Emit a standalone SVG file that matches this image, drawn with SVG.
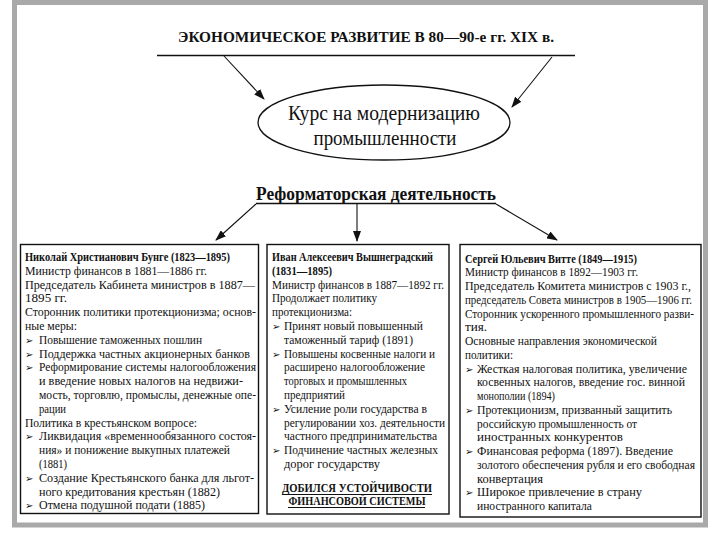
<svg xmlns="http://www.w3.org/2000/svg" width="720" height="540" viewBox="0 0 720 540">
<style>
.t{font-family:"Liberation Serif","Times New Roman","Tinos","DejaVu Serif",serif;font-size:12.5px;fill:#111}
.b{font-weight:bold}
.bu{font-family:"DejaVu Sans",sans-serif;font-size:10px;fill:#111}
.ln{stroke:#111;stroke-width:1.3;fill:none}
.box{fill:#fff;stroke:#111;stroke-width:1.4}
.ar{stroke:#111;stroke-width:1.1;fill:none;marker-end:url(#ah)}
</style>
<defs>
<marker id="ah" markerUnits="userSpaceOnUse" markerWidth="11" markerHeight="8" refX="10" refY="4" orient="auto">
<path d="M0,0 L11,4 L0,8 z" fill="#111"/>
</marker>
</defs>
<rect x="0" y="0" width="720" height="540" fill="#fff"/>
<rect x="14.5" y="2.5" width="691" height="522.5" fill="#fff" stroke="#a9a9a9" stroke-width="5"/>

<g id="title">
<text x="366" y="42" text-anchor="middle" class="t b" style="font-size:15px" textLength="376" lengthAdjust="spacingAndGlyphs">ЭКОНОМИЧЕСКОЕ РАЗВИТИЕ В 80—90-е гг. XIX в.</text>
<line x1="157" y1="55.5" x2="575" y2="55.5" class="ln"/>
</g>

<g id="course">
<ellipse cx="384" cy="122.5" rx="126" ry="37.5" class="ln"/>
<text x="384" y="120" text-anchor="middle" class="t" style="font-size:20px" textLength="192" lengthAdjust="spacingAndGlyphs">Курс на модернизацию</text>
<text x="385" y="145" text-anchor="middle" class="t" style="font-size:20px" textLength="143" lengthAdjust="spacingAndGlyphs">промышленности</text>
</g>

<g id="reform">
<text x="376" y="200" text-anchor="middle" class="t b" style="font-size:18px" textLength="240" lengthAdjust="spacingAndGlyphs">Реформаторская деятельность</text>
<line x1="256" y1="203.5" x2="496" y2="203.5" class="ln"/>
</g>

<g id="connectors">
<line x1="224" y1="56" x2="264" y2="99" class="ar"/>
<line x1="552" y1="57" x2="512" y2="107" class="ar"/>
<line x1="256" y1="204" x2="216" y2="240" class="ar"/>
<line x1="357" y1="204" x2="357" y2="241" class="ar"/>
<line x1="496" y1="204" x2="557" y2="240" class="ar"/>
</g>

<g id="bunge">
<rect x="20.5" y="244.5" width="238" height="269" class="box"/>
<text x="25" y="261" class="t b" textLength="205" lengthAdjust="spacingAndGlyphs">Николай Христианович Бунге (1823—1895)</text>
<text x="25" y="274.8" class="t" textLength="182" lengthAdjust="spacingAndGlyphs">Министр финансов в 1881—1886 гг.</text>
<text x="25" y="288.6" class="t" textLength="230" lengthAdjust="spacingAndGlyphs">Председатель Кабинета министров в 1887—</text>
<text x="25" y="302.4" class="t" textLength="42" lengthAdjust="spacingAndGlyphs">1895 гг.</text>
<text x="25" y="316.2" class="t" textLength="231" lengthAdjust="spacingAndGlyphs">Сторонник политики протекционизма; основ-</text>
<text x="25" y="330" class="t" textLength="52" lengthAdjust="spacingAndGlyphs">ные меры:</text>
<text x="25" y="343.8" class="bu">➢</text>
<text x="39" y="343.8" class="t" textLength="163" lengthAdjust="spacingAndGlyphs">Повышение таможенных пошлин</text>
<text x="25" y="357.6" class="bu">➢</text>
<text x="39" y="357.6" class="t" textLength="211" lengthAdjust="spacingAndGlyphs">Поддержка частных акционерных банков</text>
<text x="25" y="371.4" class="bu">➢</text>
<text x="39" y="371.4" class="t" textLength="217" lengthAdjust="spacingAndGlyphs">Реформирование системы налогообложения</text>
<text x="39" y="385.2" class="t" textLength="204" lengthAdjust="spacingAndGlyphs">и введение новых налогов на недвижи-</text>
<text x="39" y="399" class="t" textLength="217" lengthAdjust="spacingAndGlyphs">мость, торговлю, промыслы, денежные опе-</text>
<text x="39" y="412.8" class="t" textLength="27" lengthAdjust="spacingAndGlyphs">рации</text>
<text x="25" y="426.6" class="t" textLength="172" lengthAdjust="spacingAndGlyphs">Политика в крестьянском вопросе:</text>
<text x="25" y="440.4" class="bu">➢</text>
<text x="39" y="440.4" class="t" textLength="217" lengthAdjust="spacingAndGlyphs">Ликвидация «временнообязанного состоя-</text>
<text x="39" y="454.2" class="t" textLength="191" lengthAdjust="spacingAndGlyphs">ния» и понижение выкупных платежей</text>
<text x="39" y="468" class="t" textLength="28" lengthAdjust="spacingAndGlyphs">(1881)</text>
<text x="25" y="481.8" class="bu">➢</text>
<text x="39" y="481.8" class="t" textLength="215" lengthAdjust="spacingAndGlyphs">Создание Крестьянского банка для льгот-</text>
<text x="39" y="495.6" class="t" textLength="181" lengthAdjust="spacingAndGlyphs">ного кредитования крестьян (1882)</text>
<text x="25" y="509.4" class="bu">➢</text>
<text x="39" y="509.4" class="t" textLength="166" lengthAdjust="spacingAndGlyphs">Отмена подушной подати (1885)</text>
</g>

<g id="vyshnegradsky">
<rect x="267" y="244.5" width="182" height="269.5" class="box"/>
<text x="272" y="261" class="t b" textLength="161" lengthAdjust="spacingAndGlyphs">Иван Алексеевич Вышнеградский</text>
<text x="272" y="274.8" class="t b" textLength="60" lengthAdjust="spacingAndGlyphs">(1831—1895)</text>
<text x="272" y="288.6" class="t" textLength="172" lengthAdjust="spacingAndGlyphs">Министр финансов в 1887—1892 гг.</text>
<text x="272" y="302.4" class="t" textLength="105" lengthAdjust="spacingAndGlyphs">Продолжает политику</text>
<text x="272" y="316.2" class="t" textLength="80" lengthAdjust="spacingAndGlyphs">протекционизма:</text>
<text x="272" y="330" class="bu">➢</text>
<text x="284" y="330" class="t" textLength="139" lengthAdjust="spacingAndGlyphs">Принят новый повышенный</text>
<text x="284" y="343.8" class="t" textLength="129" lengthAdjust="spacingAndGlyphs">таможенный тариф (1891)</text>
<text x="272" y="357.6" class="bu">➢</text>
<text x="284" y="357.6" class="t" textLength="151" lengthAdjust="spacingAndGlyphs">Повышены косвенные налоги и</text>
<text x="284" y="371.4" class="t" textLength="141" lengthAdjust="spacingAndGlyphs">расширено налогообложение</text>
<text x="284" y="385.2" class="t" textLength="123" lengthAdjust="spacingAndGlyphs">торговых и промышленных</text>
<text x="284" y="399" class="t" textLength="61" lengthAdjust="spacingAndGlyphs">предприятий</text>
<text x="272" y="412.8" class="bu">➢</text>
<text x="284" y="412.8" class="t" textLength="143" lengthAdjust="spacingAndGlyphs">Усиление роли государства в</text>
<text x="284" y="426.6" class="t" textLength="161" lengthAdjust="spacingAndGlyphs">регулировании хоз. деятельности</text>
<text x="284" y="440.4" class="t" textLength="153" lengthAdjust="spacingAndGlyphs">частного предпринимательства</text>
<text x="272" y="454.2" class="bu">➢</text>
<text x="284" y="454.2" class="t" textLength="154" lengthAdjust="spacingAndGlyphs">Подчинение частных железных</text>
<text x="284" y="468" class="t" textLength="96" lengthAdjust="spacingAndGlyphs">дорог государству</text>
<text x="357" y="492" text-anchor="middle" class="t b" textLength="150" lengthAdjust="spacingAndGlyphs">ДОБИЛСЯ УСТОЙЧИВОСТИ</text>
<line x1="282" y1="494.5" x2="432" y2="494.5" stroke="#111" stroke-width="1"/>
<text x="357" y="505" text-anchor="middle" class="t b" textLength="137" lengthAdjust="spacingAndGlyphs">ФИНАНСОВОЙ СИСТЕМЫ</text>
<line x1="288" y1="507.5" x2="425" y2="507.5" stroke="#111" stroke-width="1"/>
</g>

<g id="witte">
<rect x="460" y="244.5" width="241" height="272.5" class="box"/>
<text x="465" y="262.5" class="t b" textLength="172" lengthAdjust="spacingAndGlyphs">Сергей Юльевич Витте (1849—1915)</text>
<text x="465" y="276.25" class="t" textLength="173" lengthAdjust="spacingAndGlyphs">Министр финансов в 1892—1903 гг.</text>
<text x="465" y="290" class="t" textLength="226" lengthAdjust="spacingAndGlyphs">Председатель Комитета министров с 1903 г.,</text>
<text x="465" y="303.75" class="t" style="font-size:11.5px" textLength="227" lengthAdjust="spacingAndGlyphs">председатель Совета министров в 1905—1906 гг.</text>
<text x="465" y="317.5" class="t" textLength="229" lengthAdjust="spacingAndGlyphs">Сторонник ускоренного промышленного разви-</text>
<text x="465" y="331.25" class="t" textLength="22" lengthAdjust="spacingAndGlyphs">тия.</text>
<text x="465" y="345" class="t" textLength="192" lengthAdjust="spacingAndGlyphs">Основные направления экономической</text>
<text x="465" y="358.75" class="t" textLength="48" lengthAdjust="spacingAndGlyphs">политики:</text>
<text x="465" y="372.5" class="bu">➢</text>
<text x="477" y="372.5" class="t" textLength="210" lengthAdjust="spacingAndGlyphs">Жесткая налоговая политика, увеличение</text>
<text x="477" y="386.25" class="t" textLength="208" lengthAdjust="spacingAndGlyphs">косвенных налогов, введение гос. винной</text>
<text x="477" y="400" class="t" textLength="78" lengthAdjust="spacingAndGlyphs">монополии (1894)</text>
<text x="465" y="413.75" class="bu">➢</text>
<text x="477" y="413.75" class="t" textLength="195" lengthAdjust="spacingAndGlyphs">Протекционизм, призванный защитить</text>
<text x="477" y="427.5" class="t" textLength="160" lengthAdjust="spacingAndGlyphs">российскую промышленность от</text>
<text x="477" y="441.25" class="t" textLength="146" lengthAdjust="spacingAndGlyphs">иностранных конкурентов</text>
<text x="465" y="455" class="bu">➢</text>
<text x="477" y="455" class="t" textLength="196" lengthAdjust="spacingAndGlyphs">Финансовая реформа (1897). Введение</text>
<text x="477" y="468.75" class="t" textLength="218" lengthAdjust="spacingAndGlyphs">золотого обеспечения рубля и его свободная</text>
<text x="477" y="482.5" class="t" textLength="66" lengthAdjust="spacingAndGlyphs">конвертация</text>
<text x="465" y="496.25" class="bu">➢</text>
<text x="477" y="496.25" class="t" textLength="165" lengthAdjust="spacingAndGlyphs">Широкое привлечение в страну</text>
<text x="477" y="510" class="t" textLength="115" lengthAdjust="spacingAndGlyphs">иностранного капитала</text>
</g>
</svg>
